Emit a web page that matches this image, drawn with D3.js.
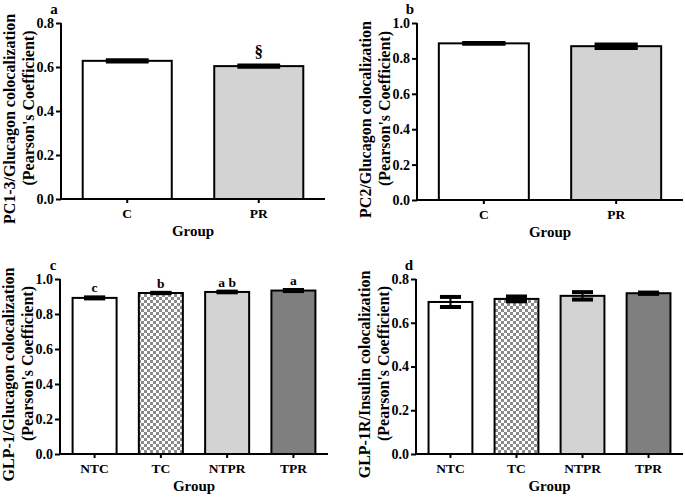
<!DOCTYPE html>
<html><head><meta charset="utf-8">
<script src="https://cdn.jsdelivr.net/npm/d3@7"></script>
<style>
body{margin:0;background:#fff;}
text{font-family:"Liberation Serif","Times New Roman",serif;font-weight:bold;fill:#000;}
</style></head>
<body><svg id="chart" width="685" height="497"></svg>
<script>
// ---- data ----
const groupsAB = ["C", "PR"];
const meansA = [0.628, 0.604];
const semA = [0.003, 0.003];
const sigA = ["", "§"];

const meansB = [0.885, 0.869];
const semB = [0.002, 0.010];

const groupsCD = ["NTC", "TC", "NTPR", "TPR"];
const meansC = [0.892, 0.920, 0.926, 0.934];
const semC = [0.003, 0.001, 0.002, 0.003];
const sigC = ["c", "b", "a b", "a"];

const meansD = [0.695, 0.709, 0.723, 0.735];
const semD = [0.023, 0.011, 0.017, 0.003];

const ticksA = [0, 0.2, 0.4, 0.6, 0.8];
const ticksB = [0, 0.2, 0.4, 0.6, 0.8, 1.0];
const ticksC = [0, 0.2, 0.4, 0.6, 0.8, 1.0];
const ticksD = [0, 0.2, 0.4, 0.6, 0.8];

const fillsAB = ["#ffffff", "#d3d3d3"];
const fillsCD = ["#ffffff", "url(#checker)", "#d3d3d3", "#7f7f7f"];

// ---- drawing ----
const svg = d3.select("#chart");
const defs = svg.append("defs");
const pat = defs.append("pattern").attr("id", "checker").attr("patternUnits", "userSpaceOnUse")
  .attr("width", 6).attr("height", 6);
pat.append("rect").attr("width", 6).attr("height", 6).attr("fill", "#ffffff");
pat.append("rect").attr("width", 3).attr("height", 3).attr("fill", "#8a8a8a");
pat.append("rect").attr("x", 3).attr("y", 3).attr("width", 3).attr("height", 3).attr("fill", "#8a8a8a");

function panel(cfg) {
  const g = svg.append("g");
  const y = d3.scaleLinear().domain([0, cfg.ymax]).range([cfg.y0, cfg.ytop]);
  const x = d3.scaleBand().domain(cfg.groups).range([cfg.x0, cfg.x1])
    .paddingInner(cfg.pi).paddingOuter(cfg.po);
  const bw = x.bandwidth();

  // bars
  g.selectAll("rect.bar").data(cfg.groups).join("rect")
    .attr("x", d => x(d)).attr("width", bw)
    .attr("y", (d, i) => y(cfg.means[i]))
    .attr("height", (d, i) => y(0) - y(cfg.means[i]))
    .attr("fill", (d, i) => cfg.fills[i])
    .attr("stroke", "#000").attr("stroke-width", 2);

  // error bars
  const capW = bw * 0.48;
  cfg.groups.forEach((d, i) => {
    const cx = x(d) + bw / 2;
    const hi = y(cfg.means[i] + cfg.sem[i]), lo = y(cfg.means[i] - cfg.sem[i]);
    g.append("line").attr("x1", cx).attr("x2", cx).attr("y1", hi).attr("y2", lo)
      .attr("stroke", "#000").attr("stroke-width", 2);
    [hi, lo].forEach(yy => g.append("line").attr("x1", cx - capW / 2).attr("x2", cx + capW / 2)
      .attr("y1", yy).attr("y2", yy).attr("stroke", "#000").attr("stroke-width", 4));
    if (cfg.sig && cfg.sig[i]) {
      g.append("text").attr("x", cx).attr("y", hi - cfg.sigGap).attr("text-anchor", "middle")
        .style("font-size", cfg.sigSize + "px").text(cfg.sig[i]);
    }
  });

  // y axis
  const ya = g.append("g").attr("transform", `translate(${cfg.x0},0)`)
    .call(d3.axisLeft(y).tickValues(cfg.ticks).tickFormat(d3.format(".1f")).tickSize(5).tickPadding(2));
  ya.select(".domain").attr("stroke-width", 2).attr("d", `M0,${cfg.ytop}V${cfg.y0}`);
  ya.selectAll(".tick line").attr("stroke-width", 2);
  ya.selectAll(".tick text").style("font-size", "14px").style("font-family", null);

  // x axis
  const xa = g.append("g").attr("transform", `translate(0,${cfg.y0})`)
    .call(d3.axisBottom(x).tickSize(4).tickPadding(5));
  xa.select(".domain").attr("stroke-width", 2).attr("d", `M${cfg.x0},0H${cfg.x1}`);
  xa.selectAll(".tick line").attr("stroke-width", 2);
  xa.selectAll(".tick text").style("font-size", "13.5px").style("font-family", null);

  // titles
  g.append("text").attr("x", (cfg.x0 + cfg.x1) / 2).attr("y", cfg.y0 + 37)
    .attr("text-anchor", "middle").style("font-size", "15px").text("Group");
  const ym = (cfg.y0 + cfg.ytop) / 2;
  g.append("text").attr("transform", `translate(${cfg.x0 - 46},${ym + 8}) rotate(-90)`)
    .attr("text-anchor", "middle").style("font-size", "16px").text(cfg.ytitle);
  g.append("text").attr("transform", `translate(${cfg.x0 - 27},${ym - 3}) rotate(-90)`)
    .attr("text-anchor", "middle").style("font-size", "16px").text("(Pearson's Coefficient)");
  g.append("text").attr("x", cfg.x0 - 7).attr("y", cfg.ytop - 9).attr("text-anchor", "middle")
    .style("font-size", "15px").text(cfg.letter);
}

panel({groups: groupsAB, means: meansA, sem: semA, sig: sigA, sigSize: 17, sigGap: 8, fills: fillsAB,
  ymax: 0.8, ticks: ticksA, x0: 61, x1: 325, y0: 199, ytop: 23, pi: 0.323, po: 0.165,
  ytitle: "PC1-3/Glucagon colocalization", letter: "a"});
panel({groups: groupsAB, means: meansB, sem: semB, fills: fillsAB,
  ymax: 1.0, ticks: ticksB, x0: 417, x1: 683, y0: 200, ytop: 23, pi: 0.32, po: 0.165,
  ytitle: "PC2/Glucagon colocalization", letter: "b"});
panel({groups: groupsCD, means: meansC, sem: semC, sig: sigC, sigSize: 13.5, sigGap: 5, fills: fillsCD,
  ymax: 1.0, ticks: ticksC, x0: 60, x1: 328, y0: 454, ytop: 279, pi: 0.336, po: 0.19,
  ytitle: "GLP-1/Glucagon colocalization", letter: "c"});
panel({groups: groupsCD, means: meansD, sem: semD, fills: fillsCD,
  ymax: 0.8, ticks: ticksD, x0: 416, x1: 683, y0: 454, ytop: 279, pi: 0.336, po: 0.19,
  ytitle: "GLP-1R/Insulin colocalization", letter: "d"});
</script></body></html>
